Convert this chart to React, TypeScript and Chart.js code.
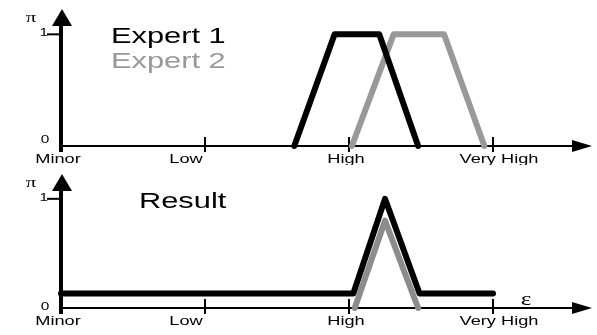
import React, { useEffect, useRef } from "react";
import { Chart, registerables } from "chart.js";

Chart.register(...registerables);

// ---- data ----
const TICK_VALUES = [0, 1, 2, 3];
const TICK_LABELS = ["Minor", "Low", "High", "Very High"];

const EXPERT1_X = [1.62, 1.9, 2.21, 2.48];
const EXPERT1_Y = [0, 1, 1, 0];
const EXPERT2_X = [2.02, 2.31, 2.66, 2.94];
const EXPERT2_Y = [0, 1, 1, 0];

const RESULT_X = [0, 2.03, 2.25, 2.49, 3.0];
const RESULT_Y = [0.133, 0.133, 1, 0.133, 0.133];
const OVERLAP_X = [2.04, 2.25, 2.48];
const OVERLAP_Y = [0, 0.8, 0];

const X_MAX = 3.6875;
const Y_MAX = 1.2;

// ---- style ----
const SX = 1.4; // horizontal text stretch of the original picture
const SANS = "'Liberation Sans', Arial, sans-serif";
const SERIF = "'Liberation Serif', 'Times New Roman', serif";
const LABEL_NUDGE = [-3, -19, -3, 6];

function pts(xs: number[], ys: number[]) {
  return xs.map((x, i) => ({ x, y: ys[i] }));
}

function stretchedText(
  ctx: CanvasRenderingContext2D,
  text: string,
  x: number,
  y: number,
  font: string,
  color: string,
  align: CanvasTextAlign
) {
  ctx.save();
  ctx.translate(x, y);
  ctx.scale(SX, 1);
  ctx.font = font;
  ctx.fillStyle = color;
  ctx.textAlign = align;
  ctx.textBaseline = "alphabetic";
  ctx.fillText(text, 0, 0);
  ctx.restore();
}

type PanelOpts = {
  legend: { text: string; color: string; x: number; y: number }[];
  epsilon: boolean;
  zeroDy: number;
};

function makePlugin(opts: PanelOpts) {
  return {
    id: "panelDecor",
    beforeDatasetsDraw(chart: any) {
      const ctx: CanvasRenderingContext2D = chart.ctx;
      const xs = chart.scales.x;
      const ys = chart.scales.y;
      const area = chart.chartArea;
      const x0 = xs.getPixelForValue(0);
      const y0 = ys.getPixelForValue(0);
      const y1 = ys.getPixelForValue(1);
      ctx.save();
      ctx.strokeStyle = "#000";
      ctx.fillStyle = "#000";
      // x axis
      ctx.lineWidth = 2;
      ctx.beginPath();
      ctx.moveTo(x0, y0);
      ctx.lineTo(area.right - 18, y0);
      ctx.stroke();
      ctx.beginPath();
      ctx.moveTo(area.right, y0);
      ctx.lineTo(area.right - 20, y0 - 6);
      ctx.lineTo(area.right - 20, y0 + 6);
      ctx.closePath();
      ctx.fill();
      // x ticks
      TICK_VALUES.forEach((v, i) => {
        if (i === 0) return;
        const px = xs.getPixelForValue(v);
        ctx.beginPath();
        ctx.moveTo(px, y0 - 9);
        ctx.lineTo(px, y0 + 6);
        ctx.stroke();
      });
      // y axis
      ctx.lineWidth = 4;
      ctx.beginPath();
      ctx.moveTo(x0, y0 + 6);
      ctx.lineTo(x0, area.top + 12);
      ctx.stroke();
      ctx.beginPath();
      ctx.moveTo(x0 + 1, area.top - 3);
      ctx.lineTo(x0 - 9, area.top + 14);
      ctx.lineTo(x0 + 11, area.top + 14);
      ctx.closePath();
      ctx.fill();
      // y tick at 1
      ctx.lineWidth = 2;
      ctx.beginPath();
      ctx.moveTo(x0 - 14, y1);
      ctx.lineTo(x0, y1);
      ctx.stroke();
      ctx.restore();
    },
    afterDraw(chart: any) {
      const ctx: CanvasRenderingContext2D = chart.ctx;
      const xs = chart.scales.x;
      const ys = chart.scales.y;
      const area = chart.chartArea;
      const x0 = xs.getPixelForValue(0);
      const y0 = ys.getPixelForValue(0);
      const y1 = ys.getPixelForValue(1);
      TICK_VALUES.forEach((v, i) => {
        stretchedText(
          ctx,
          TICK_LABELS[i],
          xs.getPixelForValue(v) + LABEL_NUDGE[i],
          y0 + 17,
          `13px ${SANS}`,
          "#000",
          "center"
        );
      });
      stretchedText(ctx, "1", x0 - 13, y1 + 2, `11px ${SANS}`, "#000", "right");
      stretchedText(ctx, "0", x0 - 16, y0 + opts.zeroDy, `11px ${SANS}`, "#000", "center");
      stretchedText(ctx, "π", x0 - 30, area.top + 10, `15px ${SERIF}`, "#000", "center");
      opts.legend.forEach((l) => {
        stretchedText(ctx, l.text, l.x, l.y, `22px ${SANS}`, l.color, "left");
      });
      if (opts.epsilon) {
        stretchedText(ctx, "ε", xs.getPixelForValue(3.23), y0 - 3, `18px ${SERIF}`, "#000", "center");
      }
    },
  };
}

function baseOptions(bottomPad: number): any {
  return {
    responsive: false,
    animation: false,
    layout: { padding: { left: 61, right: 5, top: 12, bottom: bottomPad } },
    plugins: { legend: { display: false }, tooltip: { enabled: false }, title: { display: false } },
    scales: {
      x: { type: "linear", min: 0, max: X_MAX, display: false },
      y: { type: "linear", min: 0, max: Y_MAX, display: false },
    },
    elements: { point: { radius: 0 } },
  };
}

function lineDs(data: any[], color: string) {
  return {
    data,
    borderColor: color,
    backgroundColor: color,
    borderWidth: 6,
    borderCapStyle: "round",
    borderJoinStyle: "round",
    pointRadius: 0,
    tension: 0,
    fill: false,
    clip: false,
    showLine: true,
  };
}

export default function App() {
  const topRef = useRef<HTMLCanvasElement>(null);
  const botRef = useRef<HTMLCanvasElement>(null);

  useEffect(() => {
    const top = new Chart(topRef.current as HTMLCanvasElement, {
      type: "line",
      data: {
        datasets: [
          lineDs(pts(EXPERT1_X, EXPERT1_Y), "#000000"),
          lineDs(pts(EXPERT2_X, EXPERT2_Y), "#999999"),
        ] as any,
      },
      options: baseOptions(19),
      plugins: [
        makePlugin({
          legend: [
            { text: "Expert 1", color: "#000000", x: 111, y: 43 },
            { text: "Expert 2", color: "#999999", x: 111, y: 68 },
          ],
          epsilon: false,
          zeroDy: -3,
        }),
      ],
    });
    const bot = new Chart(botRef.current as HTMLCanvasElement, {
      type: "line",
      data: {
        datasets: [
          lineDs(pts(OVERLAP_X, OVERLAP_Y), "#8c8c8c"),
          lineDs(pts(RESULT_X, RESULT_Y), "#000000"),
        ] as any,
      },
      options: baseOptions(27),
      plugins: [
        makePlugin({
          legend: [{ text: "Result", color: "#000000", x: 139, y: 43 }],
          epsilon: true,
          zeroDy: 2,
        }),
      ],
    });
    return () => {
      top.destroy();
      bot.destroy();
    };
  }, []);

  return (
    <div style={{ position: "absolute", left: 0, top: 0, width: 597, height: 335, background: "#fff" }}>
      <canvas ref={topRef} width={597} height={165} style={{ position: "absolute", left: 0, top: 0 }} />
      <canvas ref={botRef} width={597} height={170} style={{ position: "absolute", left: 0, top: 165 }} />
    </div>
  );
}
